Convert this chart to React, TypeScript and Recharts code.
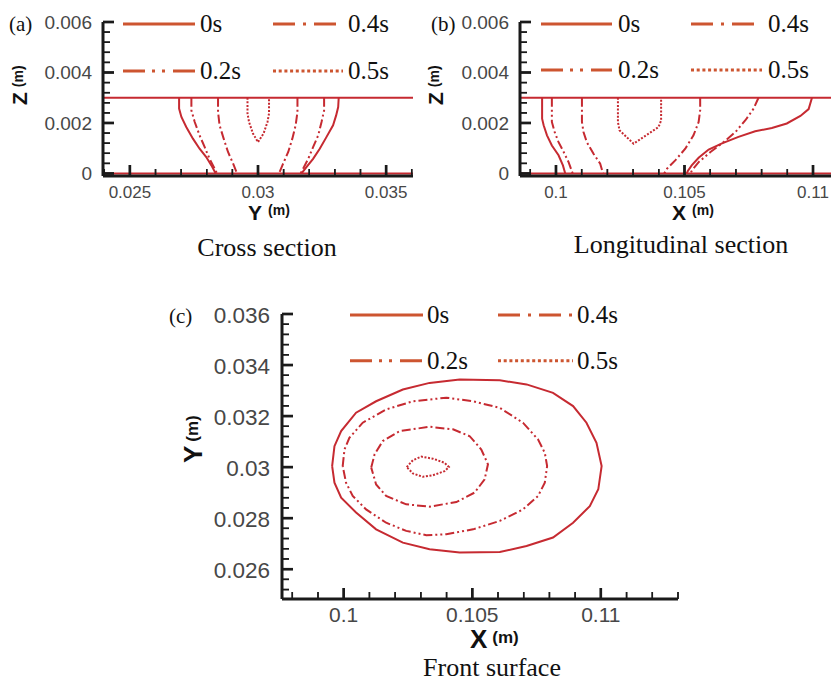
import React from 'react'
import { LineChart, Line, XAxis, YAxis, ReferenceLine } from 'recharts'

type Pt = [number, number]

const CURVE_RED = '#c62a31'
const LEGEND_RED = '#cd5530'
const AXIS_BLACK = '#1a1a1a'
const TICK_GREY = '#474747'
const SANS = '"Liberation Sans", Arial, sans-serif'
const SERIF = '"Liberation Serif", "Times New Roman", serif'

// legend is laid out row by row in this order
const LEGEND_ORDER = ['0s', '0.4s', '0.2s', '0.5s']
const CURVE_DASH: Record<string, string | undefined> = {
  '0s': undefined,
  '0.2s': '9 3 2 3 2 3',
  '0.4s': '9 3 2 3',
  '0.5s': '2 1.6',
}
const LEGEND_DASH: Record<string, string | undefined> = {
  '0s': undefined,
  '0.2s': '22 7 3 7 3 8',
  '0.4s': '22 8 3 8',
  '0.5s': '3 2.7',
}

// top surface and bottom of the sections (m)
const SECTION_LINES = [0.003, 0]

// (a) cross section, points are [Y, Z]
const A_0S_LEFT: Pt[] = [[0.02692, 0.003], [0.02692, 0.00257], [0.02701, 0.00224], [0.0272, 0.00184], [0.02746, 0.00138], [0.02772, 0.00098], [0.02798, 0.00065], [0.02818, 0.00032], [0.02835, 0]]
const A_0S_RIGHT: Pt[] = [[0.03315, 0.003], [0.03313, 0.00263], [0.03305, 0.0023], [0.03293, 0.00191], [0.03267, 0.00144], [0.03241, 0.00098], [0.03215, 0.00058], [0.03189, 0.00025], [0.0317, 0]]
const A_02S_LEFT: Pt[] = [[0.0274, 0.003], [0.0274, 0.0025], [0.02753, 0.00204], [0.02772, 0.00151], [0.02792, 0.00104], [0.02811, 0.00058], [0.02831, 0.00019], [0.0284, 0]]
const A_02S_RIGHT: Pt[] = [[0.03258, 0.003], [0.03258, 0.0025], [0.03248, 0.00204], [0.03235, 0.00151], [0.03215, 0.00104], [0.03196, 0.00058], [0.03176, 0.00019], [0.03166, 0]]
const A_04S_LEFT: Pt[] = [[0.02844, 0.003], [0.02844, 0.00244], [0.0285, 0.00191], [0.02866, 0.00138], [0.02883, 0.00085], [0.02903, 0.00039], [0.02918, 0]]
const A_04S_RIGHT: Pt[] = [[0.03154, 0.003], [0.03154, 0.00244], [0.03147, 0.00191], [0.03134, 0.00138], [0.03118, 0.00085], [0.03098, 0.00039], [0.03082, 0]]
const A_05S: Pt[] = [[0.02959, 0.003], [0.02959, 0.00238], [0.02965, 0.00204], [0.0298, 0.00159], [0.03, 0.00124], [0.03022, 0.00159], [0.03037, 0.00204], [0.03043, 0.00238], [0.03043, 0.003]]

// (b) longitudinal section, points are [X, Z]
const B_0S_LEFT: Pt[] = [[0.09946, 0.003], [0.09946, 0.00217], [0.09952, 0.00191], [0.09965, 0.00151], [0.09984, 0.00111], [0.1001, 0.00072], [0.10027, 0.00032], [0.10036, 0]]
const B_0S_RIGHT: Pt[] = [[0.10996, 0.003], [0.10983, 0.00255], [0.10951, 0.00228], [0.10898, 0.00198], [0.1084, 0.0018], [0.10775, 0.00167], [0.1071, 0.00145], [0.10646, 0.00119], [0.10594, 0.00095], [0.10555, 0.00062], [0.10528, 0.00032], [0.10513, 0.0001], [0.10509, 0]]
const B_02S_LEFT: Pt[] = [[0.09984, 0.003], [0.09984, 0.00204], [0.09995, 0.00164], [0.1001, 0.00124], [0.1003, 0.00085], [0.10049, 0.00045], [0.10065, 0]]
const B_02S_RIGHT: Pt[] = [[0.10788, 0.003], [0.10769, 0.00257], [0.10737, 0.00211], [0.10698, 0.00164], [0.10652, 0.00124], [0.10601, 0.00085], [0.10555, 0.00045], [0.10529, 0.00012], [0.10523, 0]]
const B_04S_LEFT: Pt[] = [[0.10101, 0.003], [0.10101, 0.00204], [0.10107, 0.00164], [0.1012, 0.00124], [0.10146, 0.00078], [0.10172, 0.00039], [0.10183, 0]]
const B_04S_RIGHT: Pt[] = [[0.10561, 0.003], [0.10561, 0.0025], [0.10555, 0.00204], [0.10535, 0.00151], [0.10503, 0.00098], [0.10464, 0.00052], [0.10432, 0.00019], [0.10421, 0]]
const B_05S: Pt[] = [[0.10241, 0.003], [0.10241, 0.00204], [0.10247, 0.00171], [0.10302, 0.00118], [0.10399, 0.00184], [0.10409, 0.0021], [0.10409, 0.003]]

// (c) front surface, points are [X, Y]
const C_0S: Pt[] = [[0.09955, 0.03004], [0.09964, 0.03082], [0.0999, 0.03141], [0.10048, 0.03213], [0.10126, 0.03258], [0.1023, 0.03304], [0.10334, 0.0333], [0.10451, 0.03343], [0.10607, 0.0334], [0.10711, 0.03324], [0.10814, 0.03291], [0.10892, 0.03239], [0.10944, 0.03174], [0.10983, 0.03095], [0.11003, 0.03004], [0.1099, 0.02913], [0.10957, 0.02847], [0.10892, 0.02782], [0.10814, 0.02724], [0.10711, 0.02691], [0.10607, 0.02667], [0.10451, 0.02665], [0.10334, 0.02678], [0.1023, 0.02704], [0.10126, 0.02756], [0.10048, 0.02822], [0.0999, 0.0288], [0.09964, 0.02939], [0.09955, 0.03004]]
const C_02S: Pt[] = [[0.09996, 0.03004], [0.10003, 0.03069], [0.10022, 0.03115], [0.10074, 0.03174], [0.10165, 0.03226], [0.10269, 0.03258], [0.10399, 0.03272], [0.10503, 0.03258], [0.10607, 0.03232], [0.10697, 0.03174], [0.10756, 0.03108], [0.10782, 0.03056], [0.10791, 0.03004], [0.10782, 0.02939], [0.10756, 0.02887], [0.10697, 0.02834], [0.10607, 0.02789], [0.10503, 0.02756], [0.10399, 0.02737], [0.10321, 0.02733], [0.10243, 0.0275], [0.10165, 0.02782], [0.10087, 0.02834], [0.10035, 0.02887], [0.10009, 0.02939], [0.09996, 0.03004]]
const C_04S: Pt[] = [[0.10107, 0.02998], [0.1012, 0.0305], [0.10152, 0.03102], [0.10217, 0.03141], [0.10334, 0.03158], [0.10425, 0.03148], [0.1049, 0.03121], [0.10535, 0.03069], [0.10561, 0.03011], [0.10548, 0.02952], [0.10509, 0.029], [0.10438, 0.02863], [0.10334, 0.02845], [0.10243, 0.02854], [0.10165, 0.02887], [0.10126, 0.02932], [0.10107, 0.02998]]
const C_05S: Pt[] = [[0.10245, 0.03], [0.10269, 0.03027], [0.10302, 0.03041], [0.10347, 0.03033], [0.10392, 0.03017], [0.10409, 0.03], [0.10392, 0.02984], [0.10347, 0.02968], [0.10308, 0.02962], [0.10269, 0.02975], [0.10245, 0.03]]

// tick labels
const A_X_MAJOR = [0.025, 0.03, 0.035]
const AB_Z_MAJOR = [0, 0.002, 0.004, 0.006]
const B_X_MAJOR = [0.1, 0.105, 0.11]
const C_X_MAJOR = [0.1, 0.105, 0.11]
const C_Y_MAJOR = [0.026, 0.028, 0.03, 0.032, 0.034, 0.036]

const MINOR_TICK = 7
const MAJOR_TICK = 11

const stepTicks = (from: number, to: number, step: number) => {
  const n = Math.round((to - from) / step)
  return Array.from({ length: n + 1 }, (_, i) => +(from + i * step).toFixed(6))
}

const toPts = (arr: Pt[]) => arr.map(([x, y]) => ({ x, y }))
const fmt = (v: number) => String(+v.toFixed(6))
const isMajor = (v: number, majors: number[]) => majors.some(m => Math.abs(m - v) < 1e-7)

// inward tick mark (filled rect) + label on the major values
function XTick(props: any) {
  const x = Number(props.x)
  const y = Number(props.y)
  const { payload, majorValues, labelSize, labelOffset } = props
  const major = isMajor(payload.value, majorValues)
  const len = major ? MAJOR_TICK : MINOR_TICK
  const w = major ? 2.4 : 1.5
  return (
    <g className="axis-tick">
      <rect x={x - w / 2} y={y - len} width={w} height={len} fill={AXIS_BLACK} />
      {major && (
        <text x={x} y={y + labelOffset} textAnchor="middle" fontFamily={SANS} fontSize={labelSize} fill={TICK_GREY}>
          {fmt(payload.value)}
        </text>
      )}
    </g>
  )
}

function YTick(props: any) {
  const x = Number(props.x)
  const y = Number(props.y)
  const { payload, majorValues, labelSize, labelGap, labelOffset } = props
  const major = isMajor(payload.value, majorValues)
  const len = major ? MAJOR_TICK : MINOR_TICK
  const w = major ? 2.4 : 1.5
  return (
    <g className="axis-tick">
      <rect x={x} y={y - w / 2} width={len} height={w} fill={AXIS_BLACK} />
      {major && (
        <text x={x - labelGap} y={y + labelOffset} textAnchor="end" fontFamily={SANS} fontSize={labelSize} fill={TICK_GREY}>
          {fmt(payload.value)}
        </text>
      )}
    </g>
  )
}

interface TitleSpec {
  x: number
  y: number
  letter: string
  size: number
  unitSize: number
  gap: number
  shift: number
  vertical?: boolean
}

function AxisTitle({ spec }: { spec: TitleSpec }) {
  const { x, y, letter, size, unitSize, gap, shift, vertical } = spec
  return (
    <text
      x={x}
      y={y}
      transform={vertical ? `rotate(-90 ${x} ${y})` : undefined}
      fontFamily={SANS}
      fontWeight="bold"
      fill="#111"
    >
      <tspan fontSize={size}>{letter}</tspan>
      <tspan fontSize={unitSize} dx={gap} dy={shift}>(m)</tspan>
    </text>
  )
}

interface LegendSpec {
  cols: { x: number; len: number }[]
  rows: number[]
  gap: number
}

// 2x2 legend block, page coordinates
function GridLegend({ spec }: { spec: LegendSpec }) {
  return (
    <g>
      {LEGEND_ORDER.map((t, i) => {
        const c = spec.cols[i % 2]
        const y = spec.rows[Math.floor(i / 2)]
        const end = c.x + c.len
        return (
          <g key={t}>
            <line x1={c.x} x2={end} y1={y} y2={y} stroke={LEGEND_RED} strokeWidth={3} strokeDasharray={LEGEND_DASH[t]} />
            <text x={end + spec.gap} y={y + 8} fontFamily={SERIF} fontSize={25} fill="#111">{t}</text>
          </g>
        )
      })}
    </g>
  )
}

interface Series { time: string; pts: Pt[] }

interface PanelProps {
  left: number
  top: number
  width: number
  height: number
  margin: { top: number; right: number; bottom: number; left: number }
  yAxisWidth: number
  xAxisHeight: number
  xDomain: [number, number]
  yDomain: [number, number]
  xTicks: number[]
  xMajor: number[]
  yTicks: number[]
  yMajor: number[]
  xLabel: { size: number; offset: number }
  yLabel: { size: number; gap: number; offset: number }
  series: Series[]
  flatLines: number[]
}

function Panel(p: PanelProps) {
  const plotW = p.width - p.margin.left - p.margin.right - p.yAxisWidth
  const plotH = p.height - p.margin.top - p.margin.bottom - p.xAxisHeight
  const xPerPx = (p.xDomain[1] - p.xDomain[0]) / plotW
  const yPerPx = (p.yDomain[1] - p.yDomain[0]) / plotH
  const [x0] = p.xDomain
  const [y0] = p.yDomain

  // second route for the inward tick marks: short two-point series on the axis scales
  const marks = [
    ...p.xTicks.map(v => {
      const major = isMajor(v, p.xMajor)
      const len = (major ? MAJOR_TICK : MINOR_TICK) * yPerPx
      return { key: `xm${v}`, major, data: [{ x: v, y: y0 }, { x: v, y: y0 + len }] }
    }),
    ...p.yTicks.map(v => {
      const major = isMajor(v, p.yMajor)
      const len = (major ? MAJOR_TICK : MINOR_TICK) * xPerPx
      return { key: `ym${v}`, major, data: [{ x: x0, y: v }, { x: x0 + len, y: v }] }
    }),
  ]

  return (
    <div style={{ position: 'absolute', left: p.left, top: p.top, width: p.width, height: p.height }}>
      <LineChart width={p.width} height={p.height} margin={p.margin}>
        <XAxis
          type="number"
          dataKey="x"
          domain={p.xDomain}
          ticks={p.xTicks}
          interval={0}
          height={p.xAxisHeight}
          tickSize={0}
          tickMargin={0}
          tickLine={false}
          axisLine={{ stroke: AXIS_BLACK, strokeWidth: 3 }}
          tick={<XTick majorValues={p.xMajor} labelSize={p.xLabel.size} labelOffset={p.xLabel.offset} />}
        />
        <YAxis
          type="number"
          domain={p.yDomain}
          ticks={p.yTicks}
          interval={0}
          width={p.yAxisWidth}
          tickSize={0}
          tickMargin={0}
          tickLine={false}
          axisLine={{ stroke: AXIS_BLACK, strokeWidth: 3 }}
          tick={<YTick majorValues={p.yMajor} labelSize={p.yLabel.size} labelGap={p.yLabel.gap} labelOffset={p.yLabel.offset} />}
        />
        {p.flatLines.map(v => (
          <ReferenceLine key={v} y={v} stroke={CURVE_RED} strokeWidth={2} />
        ))}
        {p.series.map((s, i) => (
          <Line
            key={`c${i}`}
            data={toPts(s.pts)}
            dataKey="y"
            name={s.time}
            type="linear"
            stroke={CURVE_RED}
            strokeWidth={2}
            strokeDasharray={CURVE_DASH[s.time]}
            dot={false}
            activeDot={false}
            isAnimationActive={false}
          />
        ))}
        {marks.map(m => (
          <Line
            key={m.key}
            data={m.data}
            dataKey="y"
            name={m.key}
            type="linear"
            legendType="none"
            stroke="#222222"
            strokeWidth={m.major ? 2.4 : 1.5}
            dot={false}
            activeDot={false}
            isAnimationActive={false}
          />
        ))}
      </LineChart>
    </div>
  )
}

const SECTION_AXES = {
  height: 230,
  margin: { top: 22, right: 0, bottom: 0, left: 0 },
  xAxisHeight: 54,
  yDomain: [-0.0001, 0.006] as [number, number],
  yTicks: stepTicks(0, 0.006, 0.0004),
  yMajor: AB_Z_MAJOR,
  xLabel: { size: 17, offset: 21.5 },
  yLabel: { size: 19, gap: 11, offset: 7 },
  flatLines: SECTION_LINES,
}

export default function App() {
  return (
    <div style={{ position: 'absolute', left: 0, top: 0, width: 831, height: 682, background: '#fff', overflow: 'hidden' }}>
      <svg width={831} height={682} style={{ position: 'absolute', left: 0, top: 0 }}>
        <GridLegend spec={{ cols: [{ x: 123, len: 72 }, { x: 273, len: 70 }], rows: [24, 71], gap: 5 }} />
        <GridLegend spec={{ cols: [{ x: 541, len: 71 }, { x: 691, len: 71 }], rows: [24, 70], gap: 6 }} />
        <GridLegend spec={{ cols: [{ x: 350, len: 73 }, { x: 498, len: 75 }], rows: [315, 360.7], gap: 4 }} />
        <AxisTitle spec={{ x: 248, y: 219.5, letter: 'Y', size: 21, unitSize: 14, gap: 6, shift: -5 }} />
        <AxisTitle spec={{ x: 27, y: 105, letter: 'Z', size: 21, unitSize: 14, gap: 5, shift: -4, vertical: true }} />
        <AxisTitle spec={{ x: 672, y: 219.5, letter: 'X', size: 21, unitSize: 14, gap: 6, shift: -5 }} />
        <AxisTitle spec={{ x: 443, y: 105, letter: 'Z', size: 21, unitSize: 14, gap: 5, shift: -4, vertical: true }} />
        <AxisTitle spec={{ x: 470, y: 648, letter: 'X', size: 26, unitSize: 17, gap: 5, shift: -5 }} />
        <AxisTitle spec={{ x: 201.7, y: 463, letter: 'Y', size: 26, unitSize: 17, gap: 4, shift: -4, vertical: true }} />
        <g fontFamily={SERIF} fill="#111">
          <text x={9} y={31} fontSize={21}>(a)</text>
          <text x={431} y={31} fontSize={21}>(b)</text>
          <text x={169} y={323} fontSize={21}>(c)</text>
          <text x={267} y={256} fontSize={26} textAnchor="middle">Cross section</text>
          <text x={681} y={253} fontSize={26} textAnchor="middle">Longitudinal section</text>
          <text x={492} y={676} fontSize={26} textAnchor="middle">Front surface</text>
        </g>
      </svg>
      <Panel
        {...SECTION_AXES}
        left={0}
        top={0}
        width={415}
        margin={{ ...SECTION_AXES.margin, right: 2 }}
        yAxisWidth={103}
        xDomain={[0.02395, 0.03605]}
        xTicks={stepTicks(0.024, 0.036, 0.001)}
        xMajor={A_X_MAJOR}
        series={[
          { time: '0s', pts: A_0S_LEFT },
          { time: '0s', pts: A_0S_RIGHT },
          { time: '0.2s', pts: A_02S_LEFT },
          { time: '0.2s', pts: A_02S_RIGHT },
          { time: '0.4s', pts: A_04S_LEFT },
          { time: '0.4s', pts: A_04S_RIGHT },
          { time: '0.5s', pts: A_05S },
        ]}
      />
      <Panel
        {...SECTION_AXES}
        left={415}
        top={0}
        width={416}
        yAxisWidth={105}
        xDomain={[0.0986, 0.1107]}
        xTicks={stepTicks(0.099, 0.11, 0.001)}
        xMajor={B_X_MAJOR}
        series={[
          { time: '0s', pts: B_0S_LEFT },
          { time: '0s', pts: B_0S_RIGHT },
          { time: '0.2s', pts: B_02S_LEFT },
          { time: '0.2s', pts: B_02S_RIGHT },
          { time: '0.4s', pts: B_04S_LEFT },
          { time: '0.4s', pts: B_04S_RIGHT },
          { time: '0.5s', pts: B_05S },
        ]}
      />
      <Panel
        left={160}
        top={290}
        width={520}
        height={370}
        margin={{ top: 24, right: 2, bottom: 0, left: 0 }}
        yAxisWidth={122}
        xAxisHeight={61}
        xDomain={[0.0976, 0.113]}
        yDomain={[0.02483, 0.036]}
        xTicks={stepTicks(0.098, 0.113, 0.001)}
        xMajor={C_X_MAJOR}
        yTicks={stepTicks(0.0252, 0.036, 0.0004)}
        yMajor={C_Y_MAJOR}
        xLabel={{ size: 21, offset: 22.5 }}
        yLabel={{ size: 22.5, gap: 12, offset: 8.5 }}
        flatLines={[]}
        series={[
          { time: '0s', pts: C_0S },
          { time: '0.2s', pts: C_02S },
          { time: '0.4s', pts: C_04S },
          { time: '0.5s', pts: C_05S },
        ]}
      />
    </div>
  )
}
